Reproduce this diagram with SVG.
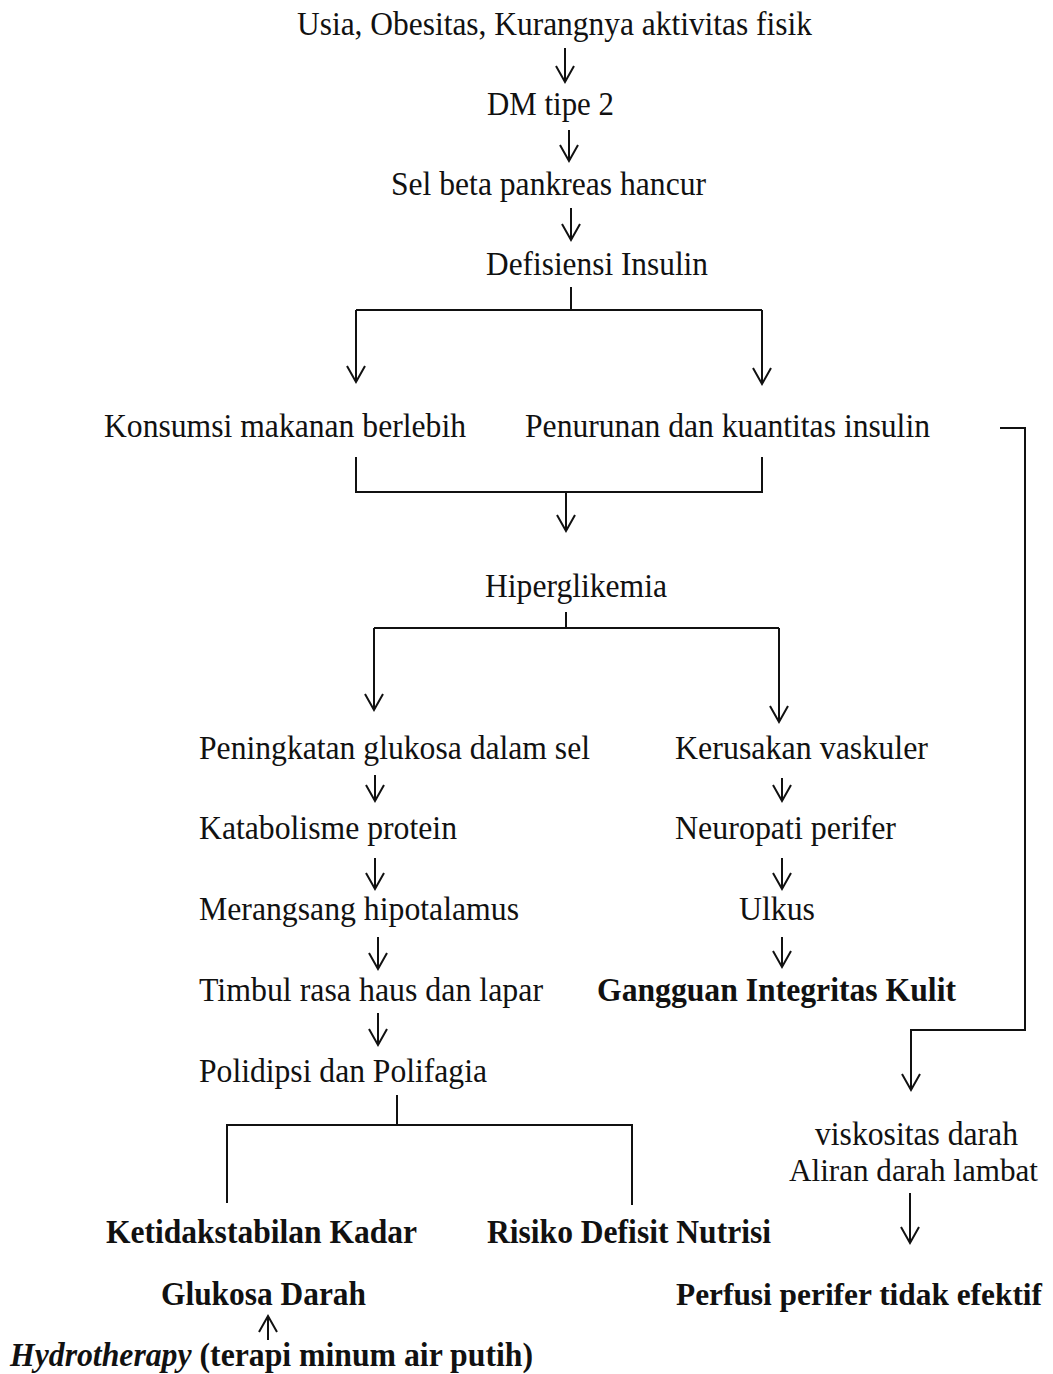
<svg xmlns="http://www.w3.org/2000/svg" width="1053" height="1374" viewBox="0 0 1053 1374">
<style>
text{font-family:"Liberation Serif","Times New Roman",Times,serif;font-size:34px;fill:#111}
.b{font-weight:bold}
.bi{font-weight:bold;font-style:italic}
.s{font-size:31px}
.c{fill:none;stroke:#111;stroke-width:2}
.a{fill:none;stroke:#111;stroke-width:2;marker-end:url(#ah)}
</style>
<defs>
<marker id="ah" markerUnits="userSpaceOnUse" markerWidth="24" markerHeight="24" viewBox="-18 -12 20 24" refX="0" refY="0" orient="auto">
<path d="M-16,-9 L0,0 L-16,9" fill="none" stroke="#111" stroke-width="2"/>
</marker>
</defs>
<rect width="1053" height="1374" fill="#fff"/>
<g id="n1"><text x="297" y="35" textLength="515" lengthAdjust="spacingAndGlyphs">Usia, Obesitas, Kurangnya aktivitas fisik</text></g>
<g id="n2"><text x="487" y="115" textLength="127" lengthAdjust="spacingAndGlyphs">DM tipe 2</text></g>
<g id="n3"><text x="391" y="195" textLength="315" lengthAdjust="spacingAndGlyphs">Sel beta pankreas hancur</text></g>
<g id="n4"><text x="486" y="275" textLength="222" lengthAdjust="spacingAndGlyphs">Defisiensi Insulin</text></g>
<g id="n5"><text x="104" y="437" textLength="362" lengthAdjust="spacingAndGlyphs">Konsumsi makanan berlebih</text></g>
<g id="n6"><text x="525" y="437" textLength="405" lengthAdjust="spacingAndGlyphs">Penurunan dan kuantitas insulin</text></g>
<g id="n7"><text x="485" y="597" textLength="182" lengthAdjust="spacingAndGlyphs">Hiperglikemia</text></g>
<g id="n8"><text x="199" y="759" textLength="391" lengthAdjust="spacingAndGlyphs">Peningkatan glukosa dalam sel</text></g>
<g id="n9"><text x="199" y="839" textLength="258" lengthAdjust="spacingAndGlyphs">Katabolisme protein</text></g>
<g id="n10"><text x="199" y="920" textLength="320" lengthAdjust="spacingAndGlyphs">Merangsang hipotalamus</text></g>
<g id="n11"><text x="199" y="1001" textLength="344" lengthAdjust="spacingAndGlyphs">Timbul rasa haus dan lapar</text></g>
<g id="n12"><text x="199" y="1082" textLength="288" lengthAdjust="spacingAndGlyphs">Polidipsi dan Polifagia</text></g>
<g id="n13"><text x="675" y="759" textLength="253" lengthAdjust="spacingAndGlyphs">Kerusakan vaskuler</text></g>
<g id="n14"><text x="675" y="839" textLength="221" lengthAdjust="spacingAndGlyphs">Neuropati perifer</text></g>
<g id="n15"><text x="739" y="920" textLength="76" lengthAdjust="spacingAndGlyphs">Ulkus</text></g>
<g id="n16"><text class="b" x="597" y="1001" textLength="359" lengthAdjust="spacingAndGlyphs">Gangguan Integritas Kulit</text></g>
<g id="n17"><text x="815" y="1145" textLength="203" lengthAdjust="spacingAndGlyphs">viskositas darah</text><text class="s" x="789" y="1181" textLength="249" lengthAdjust="spacingAndGlyphs">Aliran darah lambat</text></g>
<g id="n18"><text class="b" x="106" y="1243" textLength="311" lengthAdjust="spacingAndGlyphs">Ketidakstabilan Kadar</text><text class="b" x="161" y="1305" textLength="205" lengthAdjust="spacingAndGlyphs">Glukosa Darah</text></g>
<g id="n19"><text class="b" x="487" y="1243" textLength="284" lengthAdjust="spacingAndGlyphs">Risiko Defisit Nutrisi</text></g>
<g id="n20"><text class="b s" x="676" y="1305" textLength="366" lengthAdjust="spacingAndGlyphs">Perfusi perifer tidak efektif</text></g>
<g id="n21"><text class="b" x="10" y="1366" textLength="523" lengthAdjust="spacingAndGlyphs"><tspan class="bi">Hydrotherapy</tspan> (terapi minum air putih)</text></g>
<g id="connectors">
<path class="a" d="M565,48 V82"/>
<path class="a" d="M569,130 V161"/>
<path class="a" d="M571,208 V240"/>
<path class="c" d="M571,287 V310 M356,310 H762"/>
<path class="a" d="M356,310 V382"/>
<path class="a" d="M762,310 V384"/>
<path class="c" d="M356,457 V492 H762 V457"/>
<path class="a" d="M566,492 V531"/>
<path class="c" d="M566,612 V628 M374,628 H779"/>
<path class="a" d="M374,628 V710"/>
<path class="a" d="M779,628 V722"/>
<path class="a" d="M375,775 V801"/>
<path class="a" d="M375,858 V889"/>
<path class="a" d="M378,937 V969"/>
<path class="a" d="M378,1013 V1045"/>
<path class="a" d="M782,778 V801"/>
<path class="a" d="M782,858 V889"/>
<path class="a" d="M782,937 V967"/>
<path class="c" d="M397,1095 V1125 M227,1203 V1125 H632 V1205"/>
<path class="a" d="M1000,428 H1025 V1030 H911 V1090"/>
<path class="a" d="M910,1193 V1243"/>
<path class="a" d="M268,1340 V1316"/>
</g>
</svg>
